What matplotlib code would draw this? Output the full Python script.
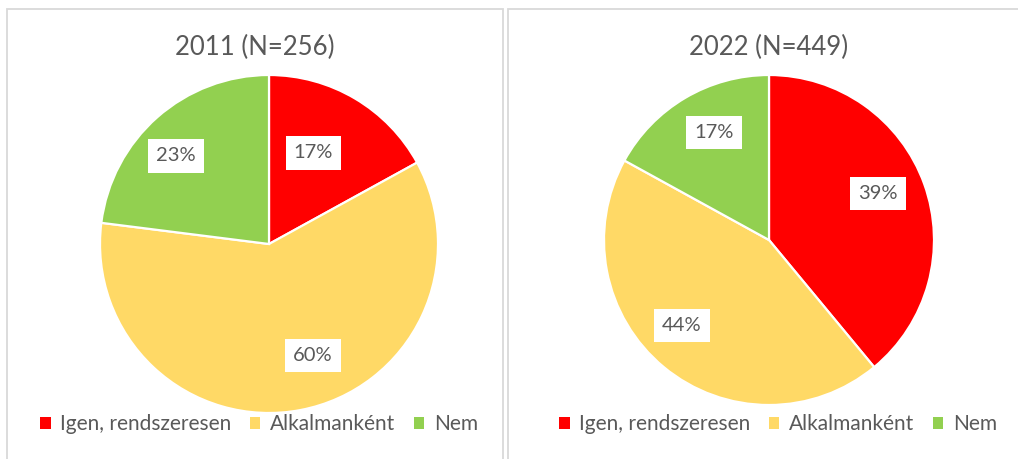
import matplotlib.pyplot as plt
from matplotlib.patches import Rectangle, Patch
import numpy as np

# adatok
categories = ['Igen, rendszeresen', 'Alkalmanként', 'Nem']
titles = ['2011 (N=256)', '2022 (N=449)']
values_2011 = [17, 60, 23]
values_2022 = [39, 44, 17]
colors = ['#FF0000', '#FFD966', '#92D050']

# címkék helye (szög fokban, távolság a sugár arányában) - Excel "best fit"
label_pos_2011 = [(64, 0.60), (-68.5, 0.71), (136.6, 0.76)]
label_pos_2022 = [(23, 0.72), (-135.7, 0.74), (117, 0.73)]

W, H = 1018, 459
fig = plt.figure(figsize=(W / 100, H / 100), dpi=100)
plt.rcParams['font.family'] = ['Lato', 'DejaVu Sans']
txt = '#595959'

# panel keretek
frames = [(7, 503), (508, 1030)]
for x0, x1 in frames:
    fig.patches.append(Rectangle((x0 / W, -0.1), (x1 - x0) / W, 1.1 - 9 / H,
                                 transform=fig.transFigure, fill=False,
                                 edgecolor='#D9D9D9', linewidth=1.3))

panels = [
    (values_2011, label_pos_2011, titles[0], (269, 244, 169), 255, 259),
    (values_2022, label_pos_2022, titles[1], (769, 240, 165), 769, 778),
]

for vals, lpos, title, (cx, cy, r), tx, legx in panels:
    ax = fig.add_axes([(cx - r) / W, (H - cy - r) / H, 2 * r / W, 2 * r / H])
    ax.pie(vals, colors=colors, startangle=90, counterclock=False, radius=1,
           wedgeprops=dict(edgecolor='white', linewidth=1.6))
    ax.set_xlim(-1, 1)
    ax.set_ylim(-1, 1)
    ax.set_aspect('auto')
    for v, (ang, d) in zip(vals, lpos):
        a = np.deg2rad(ang)
        ax.text(d * np.cos(a), d * np.sin(a), f'{v}%', ha='center', va='center',
                fontsize=14.5, color=txt,
                bbox=dict(facecolor='white', edgecolor='none', pad=6))
    fig.text(tx / W, 1 - 47 / H, title, ha='center', va='center', fontsize=18.5, color=txt)
    handles = [Patch(facecolor=c, edgecolor='none') for c in colors]
    fig.legend(handles, categories, loc='center', bbox_to_anchor=(legx / W, 1 - 424 / H),
               ncol=3, frameon=False, fontsize=15, labelcolor=txt,
               handlelength=0.5, handleheight=0.5, handletextpad=0.45, columnspacing=0.9)

fig.savefig('out.png', dpi=100)
